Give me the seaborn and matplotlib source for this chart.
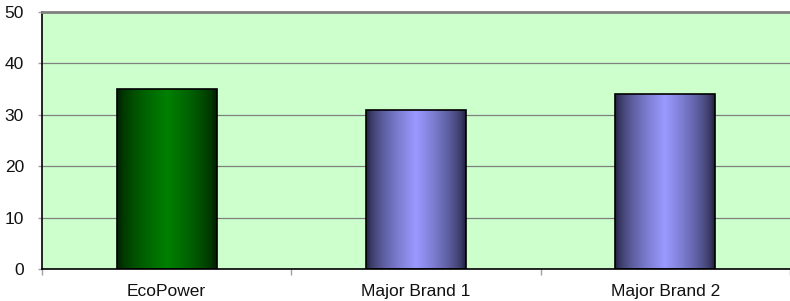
"""
Bar chart: EcoPower vs major brands, cylinder-shaded bars on a green panel.
"""

import numpy as np
import pandas as pd
import matplotlib
matplotlib.use("Agg")
import matplotlib.pyplot as plt
import matplotlib.colors as mcolors
import seaborn as sns

# data
categories = ["EcoPower", "Major Brand 1", "Major Brand 2"]
values = [35, 31, 34]
y_ticks = [0, 10, 20, 30, 40, 50]

# edge / centre colours of each cylinder
bar_dark = ["#001a00", "#1a1a33", "#1a1a33"]
bar_light = ["#008000", "#9999ff", "#9999ff"]

sns.set_theme(style="white")
plt.rcParams["font.family"] = ["Liberation Sans", "DejaVu Sans"]

df = pd.DataFrame({"brand": categories, "value": values})

fig = plt.figure(figsize=(7.9, 3.01), dpi=100)
ax = fig.add_axes([42 / 790, 32 / 301, 748 / 790, 257 / 301])
ax.set_facecolor("#ccffcc")

sns.barplot(data=df, x="brand", y="value", ax=ax, width=0.4,
            color="white", edgecolor="black", linewidth=1.2, zorder=3)

# cylinder shading: dark at the edges, brightest in the middle
t = np.linspace(0, 1, 256)
profile = np.clip(1 - np.abs(t - 0.5) / 0.5, 0, 1) ** 0.6
for patch, dark, light in zip(ax.patches, bar_dark, bar_light):
    x0, y0 = patch.get_x(), patch.get_y()
    w, h = patch.get_width(), patch.get_height()
    cmap = mcolors.LinearSegmentedColormap.from_list("cyl", [dark, light])
    img = ax.imshow(profile[np.newaxis, :], cmap=cmap, aspect="auto",
                    extent=(x0, x0 + w, y0, y0 + h), zorder=2.5,
                    interpolation="bilinear")
    img.set_clip_path(patch)
    patch.set_facecolor("none")

ax.set_xlim(-0.5, len(categories) - 0.5)
ax.set_ylim(0, 50)
ax.set_yticks(y_ticks)
ax.yaxis.grid(True, color="#808080", linewidth=0.9, zorder=1)
ax.set_axisbelow(True)
ax.set_xlabel("")
ax.set_ylabel("")

# ticks at category boundaries on the x axis
ax.set_xticks(np.arange(len(categories)))
ax.set_xticklabels(categories, fontsize=12.5, color="#111111")
ax.set_xticks(np.arange(len(categories) + 1) - 0.5, minor=True)
ax.tick_params(axis="x", which="major", length=0, pad=11)
ax.tick_params(axis="x", which="minor", length=4, color="#a0a0a0",
               width=1, direction="out", bottom=True)
ax.tick_params(axis="y", length=3, color="#a0a0a0", width=1, left=True,
               labelsize=12.5, labelcolor="#111111", pad=10)

for side in ["left", "bottom"]:
    ax.spines[side].set_color("black")
    ax.spines[side].set_linewidth(1.2)
ax.spines["top"].set_color("#808080")
ax.spines["top"].set_linewidth(2)
ax.spines["right"].set_visible(False)

fig.savefig("out.png", dpi=100)
